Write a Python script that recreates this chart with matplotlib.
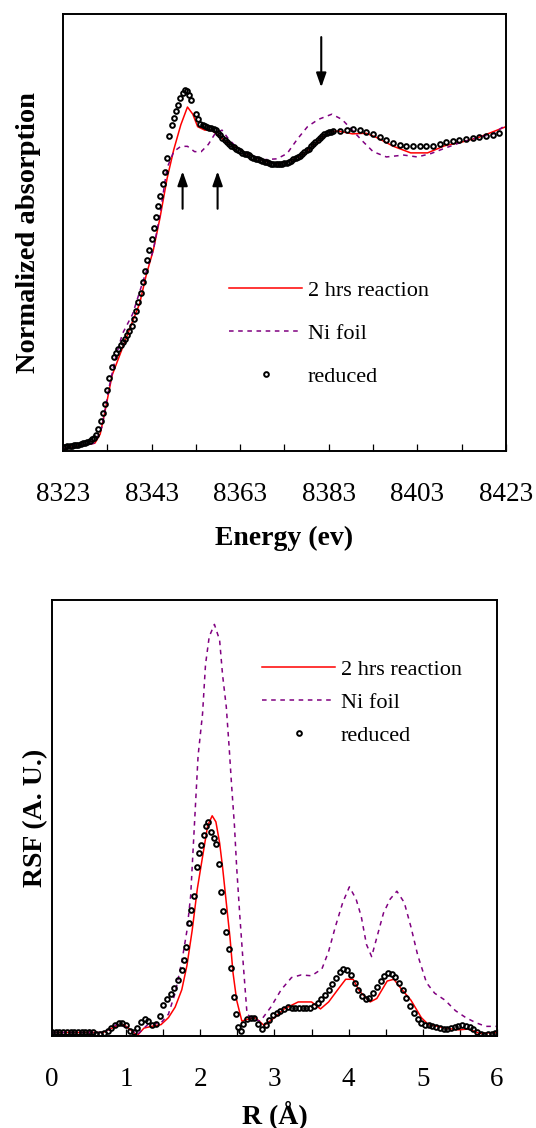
import matplotlib
matplotlib.use('Agg')
import matplotlib.pyplot as plt

plt.rcParams['font.family'] = ['Liberation Serif', 'DejaVu Serif']

# ---- XANES (top) ----
reduced_e = [8323, 8323.5, 8324, 8324.5, 8325, 8325.5, 8326, 8326.5, 8327, 8327.5, 8328, 8328.5, 8329, 8329.5, 8330,
             8330.5, 8331, 8331.5, 8332, 8332.5, 8333, 8333.5, 8334, 8334.5, 8335, 8335.5, 8336, 8336.5, 8337, 8337.5,
             8338, 8338.5, 8339, 8339.5, 8340, 8340.5, 8341, 8341.5, 8342, 8342.5, 8343, 8343.5, 8344, 8344.5, 8345,
             8345.5, 8346, 8346.5, 8347, 8347.5, 8348, 8348.5, 8349, 8349.5, 8350, 8350.5, 8351, 8351.5, 8352,
             8353, 8353.5, 8354, 8354.5, 8355, 8355.5, 8356, 8356.5, 8357, 8357.5, 8358, 8358.5, 8359, 8359.5, 8360,
             8360.5, 8361, 8361.5, 8362, 8362.5, 8363, 8363.5, 8364, 8364.5, 8365, 8365.5, 8366, 8366.5, 8367, 8367.5,
             8368, 8368.5, 8369, 8369.5, 8370, 8370.5, 8371, 8371.5, 8372, 8372.5, 8373, 8373.5, 8374, 8374.5, 8375,
             8375.5, 8376, 8376.5, 8377, 8377.5, 8378, 8378.5, 8379, 8379.5, 8380, 8380.5, 8381, 8381.5, 8382, 8382.5,
             8383, 8383.5, 8384,
             8385.5, 8387, 8388.5, 8390, 8391.5, 8393, 8394.5, 8396, 8397.5, 8399, 8400.5, 8402, 8403.5, 8405, 8406.5,
             8408, 8409.5, 8411, 8412.5, 8414, 8415.5, 8417, 8418.5, 8420, 8421.5]
reduced_mu = [0.014, 0.014, 0.015, 0.016, 0.017, 0.018, 0.019, 0.020, 0.022, 0.024, 0.027, 0.030, 0.033, 0.037, 0.042,
              0.052, 0.070, 0.095, 0.122, 0.151, 0.195, 0.235, 0.270, 0.300, 0.315, 0.327, 0.338, 0.348, 0.358, 0.370,
              0.384, 0.400, 0.424, 0.449, 0.478, 0.506, 0.540, 0.576, 0.611, 0.645, 0.678, 0.714, 0.750, 0.785, 0.818,
              0.855, 0.895, 0.940, 1.010, 1.045, 1.068, 1.090, 1.110, 1.132, 1.148, 1.155, 1.152, 1.142, 1.125,
              1.079, 1.062, 1.048, 1.043, 1.040, 1.038, 1.036, 1.035, 1.033, 1.028, 1.020, 1.012, 1.004, 0.997, 0.990,
              0.984, 0.978, 0.973, 0.968, 0.964, 0.960, 0.956, 0.953, 0.950, 0.947, 0.943, 0.940, 0.937, 0.935, 0.932,
              0.930, 0.927, 0.925, 0.922, 0.920, 0.919, 0.918, 0.918, 0.919, 0.920, 0.922, 0.924, 0.927, 0.930, 0.934,
              0.938, 0.942, 0.946, 0.951, 0.957, 0.963, 0.969, 0.976, 0.983, 0.990, 0.997, 1.004, 1.010, 1.015, 1.019,
              1.022, 1.023, 1.024,
              1.025, 1.028, 1.031, 1.029, 1.023, 1.015, 1.005, 0.996, 0.987, 0.981, 0.977, 0.976, 0.976, 0.976, 0.978,
              0.984, 0.989, 0.992, 0.995, 0.998, 1.002, 1.005, 1.009, 1.013, 1.018]

rxn_e = [8323, 8330.2, 8331.4, 8332.5, 8334.1, 8336.4, 8338.7, 8340.3, 8341.8, 8343.4, 8344.9, 8346.5, 8348, 8349.6,
         8351.1, 8352.3, 8353.4, 8355, 8356.5, 8358.1, 8359.6, 8362, 8364.3, 8368.2, 8371.3, 8374.4, 8377.5, 8380.6,
         8382.9, 8385.2, 8388.3, 8391.4, 8393.7, 8397.6, 8401.5, 8405.3, 8409.2, 8413.1, 8416.9, 8423]
rxn_mu = [0.008, 0.025, 0.054, 0.128, 0.243, 0.329, 0.415, 0.472, 0.564, 0.644, 0.747, 0.873, 0.965, 1.045,
          1.102, 1.079, 1.039, 1.028, 1.028, 1.011, 0.993, 0.974, 0.953, 0.930, 0.919, 0.930, 0.953, 0.993,
          1.022, 1.025, 1.016, 1.018, 1.005, 0.976, 0.955, 0.955, 0.978, 0.990, 1.005, 1.039]

foil_e = [8323, 8330.2, 8331.8, 8333.3, 8334.9, 8336.4, 8338.7, 8341, 8343.4, 8344.9, 8346.5, 8348, 8349.6, 8351.1,
          8352.7, 8354.2, 8355.8, 8357.3, 8358.9, 8360.4, 8362, 8364.3, 8368.2, 8371.3, 8373.6, 8375.9, 8378.2,
          8380.6, 8383.7, 8386, 8388.3, 8390.6, 8393, 8396, 8399.9, 8403, 8406.1, 8409.2, 8413.1, 8416.9, 8420.1, 8423]
foil_mu = [0.008, 0.025, 0.077, 0.197, 0.300, 0.375, 0.438, 0.541, 0.644, 0.758, 0.907, 0.959, 0.976, 0.976,
           0.959, 0.959, 0.982, 1.016, 1.028, 0.999, 0.976, 0.955, 0.933, 0.936, 0.953, 0.999, 1.039,
           1.062, 1.079, 1.062, 1.028, 0.993, 0.959, 0.942, 0.948, 0.942, 0.953, 0.970, 0.990, 1.005, 1.016, 1.045]

e_major = [8323, 8343, 8363, 8383, 8403, 8423]
e_minor = [8333, 8353, 8373, 8393, 8413]

# ---- FT (bottom) ----
red_r = [0.00, 0.05, 0.10, 0.15, 0.20, 0.25, 0.30, 0.35, 0.40, 0.45, 0.50, 0.55, 0.60, 0.65, 0.70, 0.75, 0.80, 0.85,
         0.90, 0.95, 1.00, 1.05, 1.10, 1.15, 1.20, 1.25, 1.30, 1.35, 1.40, 1.45, 1.50, 1.55, 1.60, 1.65, 1.70, 1.75,
         1.78, 1.81, 1.85, 1.88, 1.91, 1.95, 1.98, 2.01, 2.05, 2.08, 2.11, 2.15, 2.18, 2.21, 2.25, 2.28, 2.31, 2.35,
         2.38, 2.41, 2.45, 2.48, 2.51, 2.55, 2.58,
         2.63, 2.68, 2.73, 2.78, 2.83, 2.88, 2.93, 2.98, 3.03, 3.08, 3.13, 3.18, 3.23, 3.28, 3.33, 3.38, 3.43, 3.48,
         3.53, 3.58, 3.63, 3.68, 3.73, 3.78, 3.83, 3.88, 3.93, 3.98, 4.03, 4.08, 4.13, 4.18, 4.23, 4.28, 4.33, 4.38,
         4.43, 4.48, 4.53, 4.58, 4.63, 4.68, 4.73, 4.78, 4.83, 4.88, 4.93, 4.98, 5.03, 5.08, 5.13, 5.18, 5.23, 5.28,
         5.33, 5.38, 5.43, 5.48, 5.53, 5.58, 5.63, 5.68, 5.73, 5.78, 5.83, 5.88, 5.93, 5.98]
red_rsf = [0.010, 0.010, 0.008, 0.010, 0.010, 0.010, 0.009, 0.010, 0.010, 0.010, 0.010, 0.008, 0.005, 0.004, 0.006,
           0.011, 0.018, 0.025, 0.030, 0.030, 0.026, 0.012, 0.010, 0.018, 0.032, 0.038, 0.034, 0.025, 0.027, 0.046,
           0.070, 0.085, 0.097, 0.110, 0.128, 0.152,
           0.175, 0.205, 0.258, 0.288, 0.320, 0.388, 0.420, 0.438, 0.462, 0.482, 0.490, 0.468, 0.455, 0.440, 0.395,
           0.330, 0.286, 0.238, 0.200, 0.155, 0.090, 0.050, 0.020, 0.012, 0.027,
           0.038, 0.042, 0.041, 0.028, 0.016, 0.026, 0.036, 0.047, 0.053, 0.058, 0.062, 0.066, 0.065, 0.064, 0.064,
           0.064, 0.064, 0.065, 0.068, 0.075, 0.084, 0.095, 0.106, 0.119, 0.133, 0.146, 0.154, 0.151, 0.140, 0.121,
           0.105, 0.092, 0.084, 0.088, 0.098, 0.112, 0.125, 0.137, 0.145, 0.143, 0.135, 0.122, 0.105, 0.087, 0.068,
           0.052, 0.038, 0.030, 0.025, 0.024, 0.023, 0.021, 0.018, 0.016, 0.017, 0.019, 0.021, 0.023, 0.024, 0.023,
           0.021, 0.016, 0.010, 0.004, 0.002, 0.004, 0.005, 0.006]

rxn_r = [0.0, 0.69, 0.88, 0.97, 1.06, 1.15, 1.24, 1.34, 1.47, 1.57, 1.66, 1.75, 1.82, 1.89, 1.96, 2.03, 2.10, 2.16,
         2.21, 2.26, 2.30, 2.35, 2.40, 2.44, 2.49, 2.56, 2.63, 2.74, 2.86, 3.00, 3.13, 3.32, 3.50, 3.62, 3.73, 3.87,
         3.96, 4.06, 4.15, 4.29, 4.38, 4.52, 4.61, 4.70, 4.84, 4.98, 5.07, 5.30, 5.48, 5.62, 5.76, 6.0]
rxn_rsf = [0.008, 0.008, 0.024, 0.026, 0.014, 0.001, 0.018, 0.022, 0.026, 0.042, 0.066, 0.106, 0.162, 0.242, 0.338,
           0.411, 0.483, 0.505, 0.491, 0.443, 0.387, 0.306, 0.226, 0.146, 0.082, 0.034, 0.038, 0.042, 0.024, 0.042,
           0.062, 0.078, 0.078, 0.062, 0.078, 0.110, 0.130, 0.130, 0.102, 0.078, 0.086, 0.126, 0.130, 0.110, 0.082,
           0.042, 0.027, 0.018, 0.014, 0.016, 0.006, 0.008]

foil_r = [0.0, 0.69, 0.88, 1.06, 1.15, 1.29, 1.47, 1.57, 1.66, 1.75, 1.82, 1.87, 1.90, 1.94, 1.97, 2.03, 2.07, 2.12,
          2.19, 2.26, 2.30, 2.35, 2.39, 2.42, 2.46, 2.49, 2.53, 2.58, 2.63, 2.72, 2.81, 2.95, 3.09, 3.23, 3.36, 3.50,
          3.64, 3.73, 3.82, 3.92, 4.01, 4.10, 4.17, 4.24, 4.31, 4.38, 4.47, 4.56, 4.65, 4.75, 4.84, 4.93, 5.05, 5.16,
          5.30, 5.44, 5.58, 5.72, 5.85, 6.0]
foil_rsf = [0.008, 0.008, 0.027, 0.016, 0.003, 0.026, 0.030, 0.050, 0.098, 0.170, 0.242, 0.322, 0.419, 0.547, 0.643,
            0.739, 0.852, 0.916, 0.944, 0.908, 0.828, 0.755, 0.659, 0.579, 0.483, 0.387, 0.282, 0.162, 0.050, 0.038,
            0.034, 0.066, 0.106, 0.134, 0.140, 0.138, 0.154, 0.194, 0.250, 0.306, 0.342, 0.314, 0.274, 0.210, 0.182,
            0.226, 0.282, 0.314, 0.332, 0.306, 0.250, 0.186, 0.122, 0.098, 0.082, 0.058, 0.042, 0.030, 0.022, 0.022]

r_major = [0, 1, 2, 3, 4, 5, 6]
r_minor = [0.5, 1.5, 2.5, 3.5, 4.5, 5.5]

labels = ['2 hrs reaction', 'Ni foil', 'reduced']
RED = '#ff0000'
PURPLE = '#800080'

fig = plt.figure(figsize=(5.36, 11.28), dpi=100)
ax1 = fig.add_axes([0.1175, 0.6002, 0.8265, 0.3874])
ax2 = fig.add_axes([0.0970, 0.0816, 0.8302, 0.3865])


def style(ax):
    for s in ax.spines.values():
        s.set_linewidth(1.4)
    ax.set_yticks([])
    ax.tick_params(which='both', direction='in', length=5, width=0.9, top=False,
                   labelsize=19.5, pad=22)


# top panel
ax1.plot(rxn_e, rxn_mu, color=RED, lw=1.1, label=labels[0])
ax1.plot(foil_e, foil_mu, color=PURPLE, lw=1.1, ls=(0, (3, 3)), label=labels[1])
ax1.plot(reduced_e, reduced_mu, ls='none', marker='o', ms=3.4, mfc='none', mec='black', mew=1.4,
         label=labels[2])
ax1.set_xlim(8323, 8423)
ax1.set_ylim(0, 1.4)
ax1.set_xticks(e_major)
ax1.set_xticks(e_minor, minor=True)
style(ax1)
ax1.set_xlabel('Energy (ev)', fontsize=20, fontweight='bold', labelpad=14)
ax1.set_ylabel('Normalized absorption', fontsize=20.5, fontweight='bold', labelpad=16)

arrow = dict(arrowstyle='-|>,head_length=0.85,head_width=0.3', lw=1.5, color='black',
             shrinkA=0, shrinkB=0, mutation_scale=10)
ax1.annotate('', xy=(8381.3, 1.165), xytext=(8381.3, 1.326), arrowprops=arrow)
ax1.annotate('', xy=(8350.0, 0.896), xytext=(8350.0, 0.776), arrowprops=arrow)
ax1.annotate('', xy=(8357.9, 0.896), xytext=(8357.9, 0.776), arrowprops=arrow)

ax1.legend(loc='upper left', bbox_to_anchor=(0.375, 0.39), frameon=False, fontsize=16,
           handlelength=3.3, handletextpad=0.25, labelspacing=1.0, borderpad=0, borderaxespad=0,
           numpoints=1)

# bottom panel
ax2.plot(rxn_r, rxn_rsf, color=RED, lw=1.1, label=labels[0])
ax2.plot(foil_r, foil_rsf, color=PURPLE, lw=1.1, ls=(0, (3, 3)), label=labels[1])
ax2.plot(red_r, red_rsf, ls='none', marker='o', ms=3.4, mfc='none', mec='black', mew=1.4,
         label=labels[2])
ax2.set_xlim(0, 6)
ax2.set_ylim(0, 1)
ax2.set_xticks(r_major)
ax2.set_xticks(r_minor, minor=True)
style(ax2)
ax2.set_xlabel('R (Å)', fontsize=20, fontweight='bold', labelpad=6)
ax2.set_ylabel('RSF (A. U.)', fontsize=20, fontweight='bold', labelpad=3)

ax2.legend(loc='upper left', bbox_to_anchor=(0.472, 0.863), frameon=False, fontsize=16,
           handlelength=3.3, handletextpad=0.25, labelspacing=0.55, borderpad=0, borderaxespad=0,
           numpoints=1)

fig.savefig('out.png', dpi=100)
